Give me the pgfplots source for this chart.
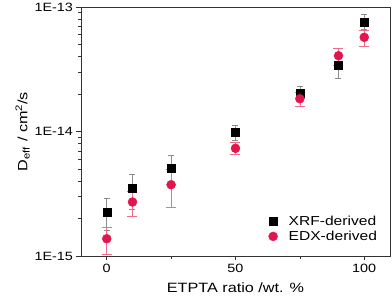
\documentclass[border=0pt]{standalone}
\usepackage{fontspec}
\setmainfont[FakeStretch=1.2]{Liberation Sans}
\usepackage{pgfplots}
\pgfplotsset{compat=1.18}
\definecolor{edx}{RGB}{226,22,76}
\definecolor{edxerr}{RGB}{240,110,140}
\definecolor{xrferr}{RGB}{140,140,140}
\begin{document}
\begin{tikzpicture}
\begin{axis}[name=ax,
  scale only axis, width=309pt, height=249pt,
  ymode=log, ymin=1e-15, ymax=1e-13,
  xmin=-10, xmax=110,
  xtick={0,50,100}, minor xtick={25,75},
  ytick={1e-15,1e-14,1e-13},
  yticklabels={1E-15,1E-14,1E-13},
  xticklabels={0,50,100},
  tick align=outside, tick pos=left,
  major tick length=4.5pt, minor tick length=2.5pt,
  axis line style={line width=0.8pt, black!80},
  every tick/.style={black!80, line width=0.6pt},
  ticklabel style={font=\fontsize{12}{14}\selectfont},
  /pgf/number format/assume math mode=true,
  xlabel={ETPTA ratio /wt. \%},
  ylabel={D\textsubscript{eff} / cm\textsuperscript{2}/s},
  xlabel style={font=\fontsize{13.5}{15}\selectfont, yshift=-3pt},
  ylabel style={font=\fontsize{13.5}{15}\selectfont, yshift=-2pt},
  legend style={draw=none, fill=none, at={(0.975,0.04)}, anchor=south east,
    font=\fontsize{13}{15}\selectfont, row sep=0pt},
  legend cell align=left,
]
\addplot[only marks, mark=square*, mark size=4pt, black,
  error bars/.cd, y dir=both, y explicit,
  error bar style={xrferr, line width=0.6pt},
  error mark options={xrferr, mark size=3pt, rotate=90}]
coordinates {
(0,2.26e-15) += (0,0.63e-15) -= (0,0.66e-15)
(10,3.50e-15) += (0,1.08e-15) -= (0,1.12e-15)
(25,5.12e-15) += (0,1.39e-15) -= (0,1.1e-15)
(50,9.85e-15) += (0,1.43e-15) -= (0,1.41e-15)
(75,2.04e-14) += (0,0.29e-14) -= (0,0.24e-14)
(90,3.42e-14) += (0,0.6e-14) -= (0,0.73e-14)
(100,7.58e-14) += (0,1.25e-14) -= (0,0.96e-14)
};
\addlegendentry{\hspace{9pt}XRF-derived}
\addplot[only marks, mark=*, mark size=4.5pt, edx,
  error bars/.cd, y dir=both, y explicit,
  error bar style={edxerr, line width=0.6pt},
  error mark options={edxerr, mark size=5pt, rotate=90}]
coordinates {
(0,1.377e-15) += (0,0.343e-15) -= (0,0.345e-15)
(10,2.715e-15) += (0,0.63e-15) -= (0,0.62e-15)
(25,3.739e-15) += (0,1.23e-15) -= (0,1.26e-15)
(50,7.33e-15) += (0,0.86e-15) -= (0,0.77e-15)
(75,1.834e-14) += (0,0.254e-14) -= (0,0.231e-14)
(90,4.06e-14) += (0,0.65e-14) -= (0,0.68e-14)
(100,5.71e-14) += (0,0.79e-14) -= (0,0.85e-14)
};
\addlegendentry{\hspace{9pt}EDX-derived}
\end{axis}
\pgfresetboundingbox
\path[use as bounding box] ([shift={(-81pt,-46pt)}]ax.south west) rectangle ([shift={(2pt,7pt)}]ax.north east);
\end{tikzpicture}
\end{document}
